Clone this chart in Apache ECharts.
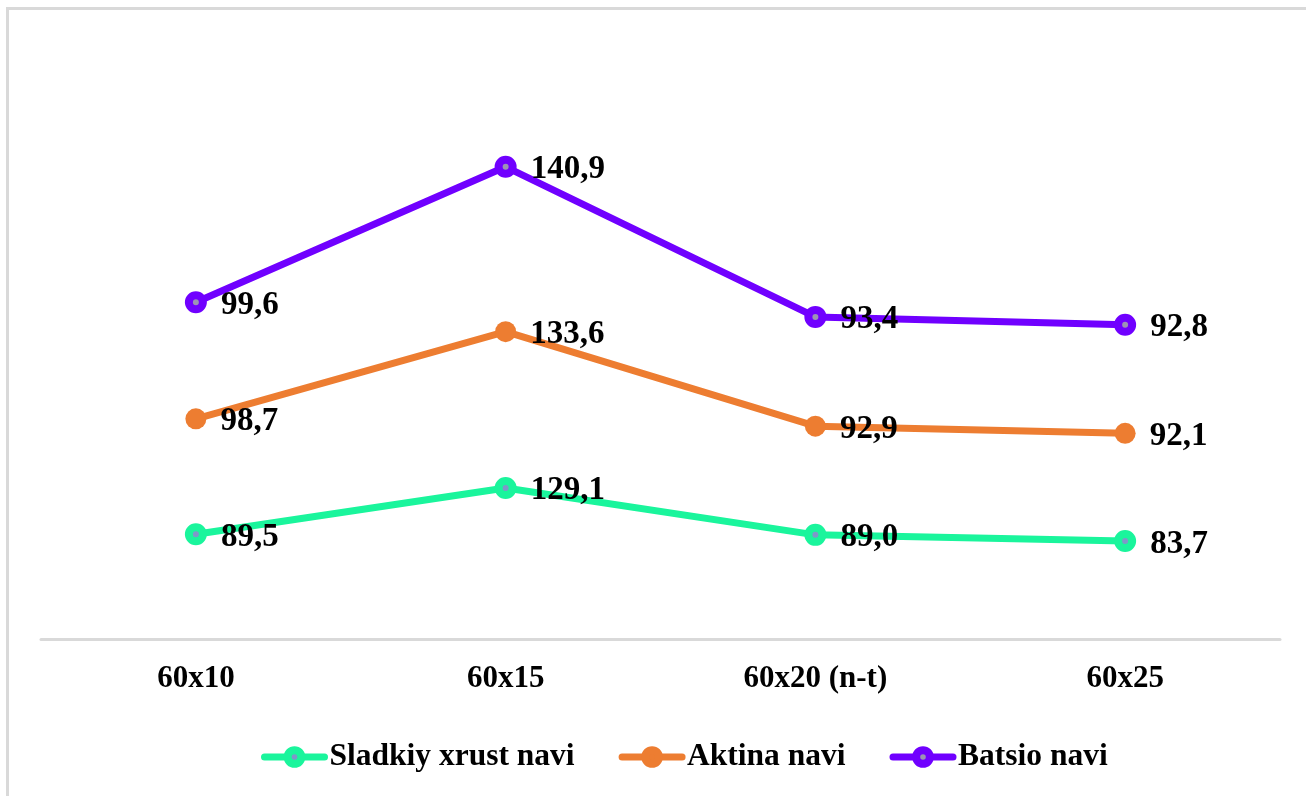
<!DOCTYPE html>
<html>
<head>
<meta charset="utf-8">
<script src="https://cdn.jsdelivr.net/npm/echarts@6/dist/echarts.min.js"></script>
<style>
html,body{margin:0;padding:0;background:#fff;overflow:hidden;}
#chart{width:1306px;height:796px;}
</style>
</head>
<body>
<div id="chart"></div>
<script>
const categories = ['60x10', '60x15', '60x20 (n-t)', '60x25'];
const sladkiy = [89.5, 129.1, 89.0, 83.7];
const aktina = [98.7, 133.6, 92.9, 92.1];
const batsio = [99.6, 140.9, 93.4, 92.8];
const seriesNames = ['Sladkiy xrust navi', 'Aktina navi', 'Batsio navi'];

const FONT = 'Liberation Serif';
const fmt = p => p.value.toFixed(1).replace('.', ',');

function mkSeries(name, data, color, dot, symSize, border, dist) {
  return {
    name: name,
    type: 'line',
    stack: 'total',
    data: data,
    symbol: 'circle',
    symbolSize: symSize,
    showAllSymbol: true,
    lineStyle: { color: color, width: 7 },
    itemStyle: { color: dot, borderColor: color, borderWidth: border },
    label: {
      show: true,
      position: 'right',
      distance: dist,
      offset: [0, 3],
      formatter: fmt,
      fontFamily: FONT,
      fontWeight: 'bold',
      fontSize: 33,
      color: '#000'
    },
    emphasis: { disabled: true },
    z: 3
  };
}

const colors = ['#1af59c', '#ed7d31', '#7000ff'];
const dots = ['#7f97c9', '#ed7d31', '#9c94b4'];

const chart = echarts.init(document.getElementById('chart'), null, { renderer: 'canvas' });
chart.setOption({
  animation: false,
  backgroundColor: '#fff',
  graphic: [{
    type: 'rect',
    shape: { x: 7.5, y: 8.5, width: 1400, height: 900 },
    style: { fill: 'none', stroke: '#d9d9d9', lineWidth: 3 },
    silent: true
  }],
  grid: { left: 41, right: 26, top: 54, bottom: 157, containLabel: false },
  xAxis: {
    type: 'category',
    data: categories,
    boundaryGap: true,
    axisLine: { show: true, lineStyle: { color: '#d9d9d9', width: 3 } },
    axisTick: { show: false },
    axisLabel: {
      margin: 24,
      fontFamily: FONT,
      fontWeight: 'bold',
      fontSize: 31,
      color: '#000'
    },
    splitLine: { show: false }
  },
  yAxis: {
    type: 'value',
    min: 0,
    max: 500,
    show: false
  },
  legend: {
    data: seriesNames.map((n, i) => ({
      name: n,
      itemStyle: { color: dots[i], borderColor: colors[i], borderWidth: 8 },
      lineStyle: { color: colors[i], width: 7, cap: 'round' }
    })),
    left: 256,
    top: 736,
    itemWidth: 60,
    itemHeight: 17,
    itemGap: 44,
    textStyle: { fontFamily: FONT, fontWeight: 'bold', fontSize: 31.5, color: '#000' }
  },
  series: [
    mkSeries(seriesNames[0], sladkiy, colors[0], dots[0], 14, 8, 14),
    mkSeries(seriesNames[1], aktina, colors[1], dots[1], 21, 0, 14),
    mkSeries(seriesNames[2], batsio, colors[2], dots[2], 14, 8, 14)
  ]
});
</script>
</body>
</html>
